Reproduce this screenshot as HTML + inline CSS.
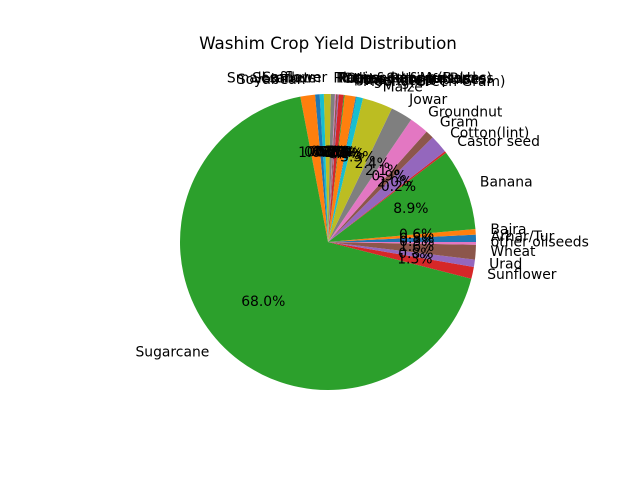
<!DOCTYPE html>
<html><head><meta charset="utf-8"><style>
html,body{margin:0;padding:0;background:#fff;}
svg{display:block;font-family:"DejaVu Sans","Liberation Sans",sans-serif;}
</style></head><body>
<svg id="chart" width="640" height="480" viewBox="0 0 640 480">
<text x="328" y="49" text-anchor="middle" font-size="16.7" fill="#000">Washim Crop Yield Distribution</text>
<g id="slices"></g>
<g id="labels"></g>
</svg>
<script>
const categories = ["Arhar/Tur","Bajra","Banana","Castor seed","Cotton(lint)","Gram","Groundnut","Jowar","Maize","Moong(Green Gram)","Niger seed","Other Kharif pulses","Other Rabi pulses","Other Summer Pulses","Peas & beans (Pulses)","Ragi","Rapeseed &Mustard","Rice","Safflower","Sesamum","Small millets","Soyabean","Sugarcane","Sunflower","Urad","Wheat","other oilseeds"];
const values = [0.8,0.6,8.9,0.2,2.0,0.9,2.1,2.4,3.3,0.7,0.1,1.2,0.1,0.55,0.1,0.2,0.1,0.45,0.75,0.45,0.5,1.6,68.0,1.3,0.8,1.6,0.3];
const colors = ["#1f77b4","#ff7f0e","#2ca02c","#d62728","#9467bd","#8c564b","#e377c2","#7f7f7f","#bcbd22","#17becf"];
const cx = 328, cy = 242, R = 148;
const NS = "http://www.w3.org/2000/svg";
const total = values.reduce((a,b)=>a+b,0);
const gS = document.getElementById('slices'), gL = document.getElementById('labels');
function pt(deg, r){ const a = deg*Math.PI/180; return [cx + r*Math.cos(a), cy - r*Math.sin(a)]; }
let start = 0;
values.forEach((v,i)=>{
  const span = v/total*360;
  const end = start + span;
  const p0 = pt(start,R), p1 = pt(end,R);
  const large = span>180?1:0;
  const path = document.createElementNS(NS,'path');
  path.setAttribute('d',`M${cx},${cy} L${p0[0]},${p0[1]} A${R},${R} 0 ${large} 0 ${p1[0]},${p1[1]} Z`);
  path.setAttribute('fill',colors[i%10]);
  
  
  gS.appendChild(path);
  const mid = start + span/2;
  const lp = pt(mid, R*1.1);
  const t = document.createElementNS(NS,'text');
  t.setAttribute('x',lp[0]); t.setAttribute('y',lp[1]+3);
  t.setAttribute('text-anchor', Math.cos(mid*Math.PI/180) >= 0 ? 'start' : 'end');
  t.setAttribute('font-size','13.9');
  t.textContent = categories[i];
  
  
  gL.appendChild(t);
  const pp = pt(mid, R*0.6);
  const t2 = document.createElementNS(NS,'text');
  t2.setAttribute('x',pp[0]); t2.setAttribute('y',pp[1]+3);
  t2.setAttribute('text-anchor','middle');
  t2.setAttribute('font-size','13.9');
  t2.textContent = (v/total*100).toFixed(1)+'%';
  
  
  gL.appendChild(t2);
  start = end;
});
</script>
</body></html>
